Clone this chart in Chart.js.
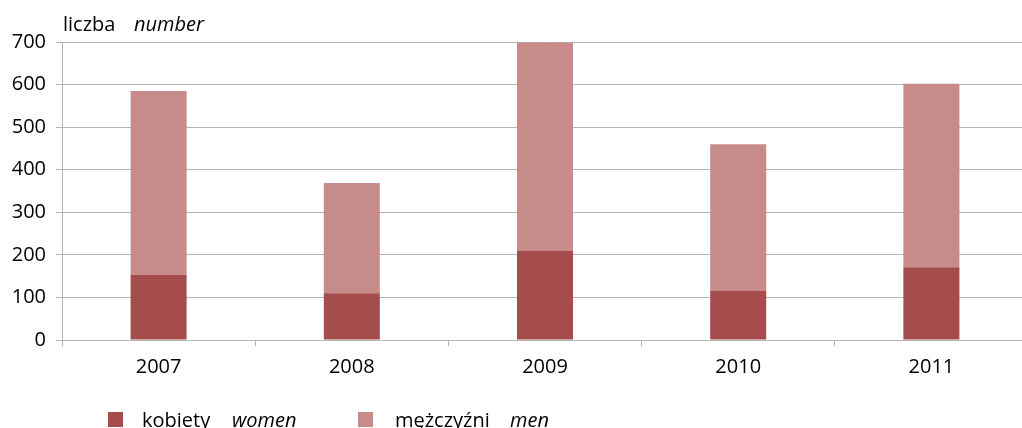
<!DOCTYPE html>
<html>
<head>
<meta charset="utf-8">
<script src="https://cdn.jsdelivr.net/npm/chart.js@4/dist/chart.umd.min.js"></script>
<style>
  html, body { margin: 0; padding: 0; background: #ffffff; overflow: hidden; }
  canvas { display: block; }
</style>
</head>
<body>
<canvas id="c" width="1028" height="428"></canvas>
<script>
// Years on the category axis
const years = ['2007', '2008', '2009', '2010', '2011'];
// Stacked series: women at the bottom, men on top
const women = [153, 110, 209, 115, 171];
const men = [432, 259, 490, 345, 431];
// Series names (Polish / English)
const namesPl = ['kobiety', 'mężczyźni'];
const namesEn = ['women', 'men'];
// Value axis
const yMax = 700;
const yStep = 100;
// Axis caption (Polish / English)
const captionPl = 'liczba';
const captionEn = 'number';

const colWomen = '#A54C4C';
const colMen = '#C78B8A';
const gridCol = '#B5B5B5';
const FONT = '"Open Sans", "DejaVu Sans", sans-serif';
const FS = 20;

// Draws the axis caption and the bilingual legend
const extras = {
  id: 'extras',
  afterDraw(chart) {
    const ctx = chart.ctx;
    ctx.save();
    ctx.fillStyle = '#000000';
    ctx.textBaseline = 'alphabetic';
    ctx.textAlign = 'left';
    ctx.font = FS + 'px ' + FONT;
    ctx.fillText(captionPl, 63, 31);
    ctx.font = 'italic ' + FS + 'px ' + FONT;
    ctx.fillText(captionEn, 134, 31);

    const items = [
      { color: colWomen, pl: namesPl[0], en: namesEn[0], sq: 108, tx: 142, ex: 232 },
      { color: colMen, pl: namesPl[1], en: namesEn[1], sq: 358, tx: 395, ex: 510 }
    ];
    items.forEach(it => {
      ctx.fillStyle = it.color;
      ctx.fillRect(it.sq, 412, 15, 15);
      ctx.fillStyle = '#000000';
      ctx.font = FS + 'px ' + FONT;
      ctx.fillText(it.pl, it.tx, 427);
      ctx.font = 'italic ' + FS + 'px ' + FONT;
      ctx.fillText(it.en, it.ex, 427);
    });
    ctx.restore();
  }
};

new Chart(document.getElementById('c'), {
  type: 'bar',
  data: {
    labels: years,
    datasets: [
      { label: namesPl[0] + ' ' + namesEn[0], data: women, backgroundColor: colWomen,
        categoryPercentage: 1, barPercentage: 0.29, borderWidth: 0 },
      { label: namesPl[1] + ' ' + namesEn[1], data: men, backgroundColor: colMen,
        categoryPercentage: 1, barPercentage: 0.29, borderWidth: 0 }
    ]
  },
  options: {
    responsive: false,
    animation: false,
    layout: { padding: { top: 42, right: 0, bottom: 0, left: 0 } },
    plugins: {
      legend: { display: false },
      tooltip: { enabled: false },
      title: { display: false }
    },
    scales: {
      x: {
        stacked: true,
        afterFit: s => { s.height = 88; },
        grid: { display: true, drawOnChartArea: false, drawTicks: true, tickLength: 6, color: gridCol, offset: true },
        border: { display: true, color: gridCol, width: 1 },
        ticks: { color: '#000000', font: { family: FONT, size: FS }, padding: 9 }
      },
      y: {
        stacked: true,
        min: 0,
        max: yMax,
        afterFit: s => { s.width = 62; },
        grid: { color: gridCol, lineWidth: 1, tickLength: 6 },
        border: { display: true, color: gridCol, width: 1 },
        ticks: { stepSize: yStep, color: '#000000', font: { family: FONT, size: FS }, padding: 10 }
      }
    }
  },
  plugins: [extras]
});
</script>
</body>
</html>
